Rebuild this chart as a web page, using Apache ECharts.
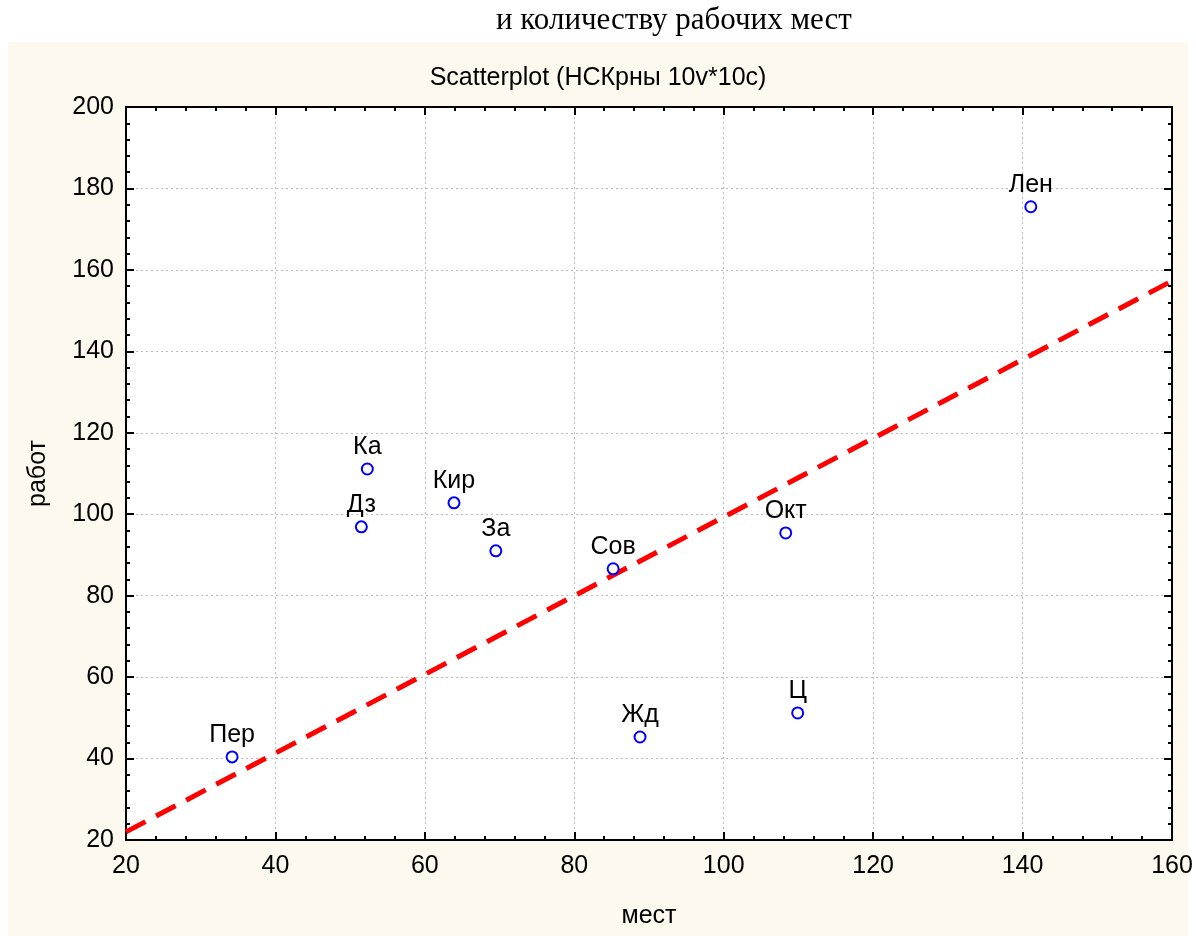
<!DOCTYPE html>
<html><head><meta charset="utf-8">
<script src="https://cdn.jsdelivr.net/npm/echarts@6/dist/echarts.min.js"></script>
<style>html,body{margin:0;padding:0;background:#fff}#c{width:1196px;height:936px}</style>
</head><body><div id="c"></div>
<script>
const names = ['Пер','Ка','Дз','Кир','За','Сов','Жд','Окт','Ц','Лен'];
const xVals = [34.2, 52.3, 51.5, 63.9, 69.5, 85.2, 88.8, 108.3, 109.9, 141.1];
const yVals = [40.4, 111.1, 96.9, 102.8, 91.0, 86.6, 45.3, 95.4, 51.2, 175.5];
const fitX = [20, 160];
const fitY = [22.0, 157.3];
const xTicks = [20, 40, 60, 80, 100, 120, 140, 160];
const yTicks = [20, 40, 60, 80, 100, 120, 140, 160, 180, 200];

const pts = names.map((n, i) => [xVals[i], yVals[i], n]);
const fit = fitX.map((x, i) => [x, fitY[i]]);
const font = '"Liberation Sans", Arial, sans-serif';

function axisBase(extra) {
  return Object.assign({
    type: 'value',
    axisLine: {show: true, onZero: false, lineStyle: {color: '#000', width: 2}},
    axisTick: {show: true, inside: true, length: 8, lineStyle: {color: '#000', width: 2}},
    minorTick: {show: true, splitNumber: 5, length: 4, lineStyle: {color: '#000', width: 2}},
    splitLine: {show: false},
    axisLabel: {show: false}
  }, extra);
}

const chart = echarts.init(document.getElementById('c'));
chart.setOption({
  backgroundColor: '#ffffff',
  animation: false,
  graphic: [
    {type: 'rect', z: -10, shape: {x: 8, y: 42, width: 1180, height: 894}, style: {fill: '#fef9ef'}},
    {type: 'text', left: 496, top: 5, style: {text: 'и количеству рабочих мест', font: '31px "Liberation Serif", "Times New Roman", serif', fill: '#000'}}
  ],
  title: {
    text: 'Scatterplot (НСКрны 10v*10с)', left: 'center', top: 61,
    textStyle: {fontFamily: font, fontSize: 25, fontWeight: 'normal', color: '#000'}
  },
  grid: {left: 126, right: 24, top: 107, bottom: 96, show: true, backgroundColor: '#fff', borderColor: '#000', borderWidth: 0,
         containLabel: false, outerBoundsMode: 'none'},
  xAxis: [
    axisBase({
      min: 20, max: 160, interval: 20, position: 'bottom',
      name: 'мест', nameLocation: 'middle', nameGap: 64,
      nameTextStyle: {fontFamily: font, fontSize: 25, color: '#000'},
      axisLabel: {show: true, margin: 14, fontFamily: font, fontSize: 25, color: '#000'},
      splitLine: {show: true, lineStyle: {color: '#bbb', type: [2, 3], width: 1}}
    }),
    axisBase({min: 20, max: 160, interval: 20, position: 'top'})
  ],
  yAxis: [
    axisBase({
      min: 20, max: 200, interval: 20, position: 'left',
      name: 'работ', nameLocation: 'middle', nameGap: 75,
      nameTextStyle: {fontFamily: font, fontSize: 25, color: '#000'},
      axisLabel: {show: true, margin: 12, fontFamily: font, fontSize: 25, color: '#000'},
      splitLine: {show: true, lineStyle: {color: '#bbb', type: [2, 3], width: 1}}
    }),
    axisBase({min: 20, max: 200, interval: 20, position: 'right'})
  ],
  series: [
    {
      type: 'line', data: fit, xAxisIndex: 0, yAxisIndex: 0, symbol: 'none', z: 2,
      lineStyle: {color: '#ff0000', width: 5, type: [22, 12]}
    },
    {
      type: 'scatter', data: pts, xAxisIndex: 0, yAxisIndex: 0, symbol: 'circle', symbolSize: 11, z: 3,
      itemStyle: {color: '#fff', borderColor: '#0000ff', borderWidth: 2, opacity: 1},
      label: {show: true, position: 'top', distance: 3, formatter: p => p.data[2], fontFamily: font, fontSize: 25, color: '#000'}
    }
  ]
});
</script></body></html>
